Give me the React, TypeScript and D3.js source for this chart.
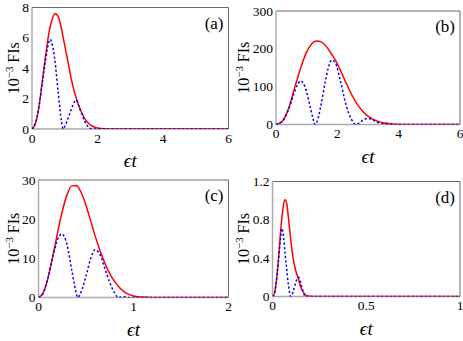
import React from "react";
import * as d3 from "d3";

// (a)
const tA = [0, 0.1, 0.2, 0.3, 0.4, 0.5, 0.55, 0.6, 0.7, 0.8, 0.9, 0.95, 1.0, 1.1, 1.2, 1.3, 1.35, 1.4, 1.5, 1.6, 1.7, 1.8, 1.9, 2.0, 2.2, 2.5, 6];
const redA = [0, 0.35, 1.3, 2.9, 4.6, 6.1, 6.7, 7.1, 7.6, 7.4, 6.6, 6.05, 5.5, 4.4, 3.3, 2.4, 2.05, 1.7, 1.15, 0.72, 0.43, 0.24, 0.13, 0.07, 0.015, 0, 0];
const blueA = [0, 0.35, 1.3, 2.8, 4.3, 5.6, 5.9, 5.7, 4.5, 2.4, 0.5, 0, 0.15, 0.7, 1.3, 1.8, 1.9, 1.7, 1.1, 0.55, 0.18, 0.02, 0, 0, 0, 0, 0];

// (b)
const tB = [0, 0.2, 0.4, 0.6, 0.7, 0.8, 0.9, 1.0, 1.1, 1.2, 1.28, 1.35, 1.45, 1.6, 1.7, 1.82, 1.95, 2.1, 2.3, 2.45, 2.6, 2.7, 2.85, 3.0, 3.15, 3.3, 3.5, 3.8, 4.2, 4.6, 6];
const redB = [0, 8, 40, 95, 122, 148, 172, 192, 206, 216, 220, 221, 219, 210, 200, 185, 168, 143, 107, 82, 60, 48, 33, 22, 14, 9, 4.5, 1.5, 0.3, 0, 0];
const blueB = [0, 8, 38, 85, 105, 115, 108, 85, 52, 18, 0, 10, 45, 110, 148, 170, 160, 115, 47, 15, 0, 3, 12, 16, 12, 6, 2, 0.3, 0, 0, 0];

// (c)
const tC = [0, 0.05, 0.1, 0.15, 0.2, 0.245, 0.3, 0.35, 0.4, 0.41, 0.45, 0.5, 0.55, 0.595, 0.65, 0.7, 0.75, 0.8, 0.84, 0.9, 0.95, 1.0, 1.1, 1.2, 1.3, 2];
const redC = [0, 1.2, 5, 10.5, 16.5, 21.5, 26.2, 28.5, 28.6, 28.4, 26.8, 23.5, 19.5, 15.8, 11.8, 8.7, 6.1, 4.1, 2.9, 1.5, 0.8, 0.4, 0.1, 0.02, 0, 0];
const blueC = [0, 1.2, 5, 10.2, 14.8, 16.2, 13.5, 7, 0.8, 0, 1.5, 5.5, 10, 12.2, 10.8, 7.3, 3.8, 1.2, 0, 0.2, 0, 0, 0, 0, 0, 0];

// (d)
const tD = [0, 0.01, 0.02, 0.03, 0.04, 0.05, 0.06, 0.067, 0.075, 0.085, 0.098, 0.11, 0.12, 0.13, 0.139, 0.15, 0.16, 0.17, 0.175, 0.18, 0.2, 0.25, 1];
const redD = [0, 0.03, 0.15, 0.35, 0.6, 0.82, 0.97, 1.01, 0.98, 0.82, 0.58, 0.4, 0.3, 0.23, 0.18, 0.1, 0.06, 0.03, 0.02, 0.012, 0.002, 0, 0];
const blueD = [0, 0.03, 0.15, 0.33, 0.55, 0.71, 0.6, 0.45, 0.3, 0.12, 0, 0.05, 0.12, 0.18, 0.2, 0.15, 0.07, 0.015, 0, 0, 0, 0, 0];

const xTicksA = [0, 2, 4, 6];
const yTicksA = [0, 2, 4, 6, 8];
const xTicksB = [0, 2, 4, 6];
const yTicksB = [0, 100, 200, 300];
const xTicksC = [0, 1, 2];
const yTicksC = [0, 10, 20, 30];
const xTicksD = [0, 0.5, 1];
const yTicksD = [0, 0.4, 0.8, 1.2];

const panels = [
  { label: "(a)", t: tA, red: redA, blue: blueA, xTicks: xTicksA, yTicks: yTicksA, box: [32, 7.5, 228.5, 129], ylabX: 19 },
  { label: "(b)", t: tB, red: redB, blue: blueB, xTicks: xTicksB, yTicks: yTicksB, box: [276, 11, 460, 124.5], ylabX: 249 },
  { label: "(c)", t: tC, red: redC, blue: blueC, xTicks: xTicksC, yTicks: yTicksC, box: [38.5, 180, 228.5, 297.5], ylabX: 19 },
  { label: "(d)", t: tD, red: redD, blue: blueD, xTicks: xTicksD, yTicks: yTicksD, box: [272.5, 181.5, 460, 296.5], ylabX: 249 },
];

const FONT = "Liberation Serif, Times New Roman, serif";

const Panel = ({ p }: { p: any }) => {
  const [x0, y0, x1, y1] = p.box;
  const x = d3.scaleLinear().domain([p.xTicks[0], p.xTicks[p.xTicks.length - 1]]).range([x0, x1]);
  const y = d3.scaleLinear().domain([p.yTicks[0], p.yTicks[p.yTicks.length - 1]]).range([y1, y0]);
  const line = d3
    .line<number>()
    .x((_, i) => x(p.t[i]))
    .y((d) => y(d))
    .curve(d3.curveMonotoneX);
  const cx = (x0 + x1) / 2;
  const cy = (y0 + y1) / 2;
  const clipId = "clip" + p.label.replace(/[()]/g, "");
  return (
    <g>
      <defs>
        <clipPath id={clipId}>
          <rect x={x0} y={y0 - 2} width={x1 - x0} height={y1 - y0 + 2} />
        </clipPath>
      </defs>
      {/* frame */}
      <line x1={x0} x2={x1} y1={y0} y2={y0} stroke="#666" strokeWidth={1} />
      <line x1={x1} x2={x1} y1={y0} y2={y1} stroke="#666" strokeWidth={1} />
      <line x1={x0} x2={x0} y1={y0} y2={y1} stroke="#aaa" strokeWidth={1.4} />
      <line x1={x0} x2={x1} y1={y1} y2={y1} stroke="#aaa" strokeWidth={1.6} />
      <g clipPath={`url(#${clipId})`}>
        <path d={line(p.red) || ""} fill="none" stroke="#ff0000" strokeWidth={1.5} />
        <path d={line(p.blue) || ""} fill="none" stroke="#0000ff" strokeWidth={1.5} strokeDasharray="2.2,2.2" />
      </g>
      {p.xTicks.map((v: number) => (
        <text key={"x" + v} x={x(v)} y={y1 + 13.5} textAnchor="middle" fontSize={13.5} fontFamily={FONT}>
          {String(v)}
        </text>
      ))}
      {p.yTicks.map((v: number) => (
        <text key={"y" + v} x={x0 - 3} y={y(v) + 4.5} textAnchor="end" fontSize={13.5} fontFamily={FONT}>
          {String(v)}
        </text>
      ))}
      <text x={cx} y={y1 + 38} textAnchor="middle" fontSize={19} fontFamily={FONT} fontStyle="italic">
        ϵt
      </text>
      <text
        transform={`translate(${p.ylabX},${cy}) rotate(-90)`}
        textAnchor="middle"
        fontSize={16}
        fontFamily={FONT}
      >
        10<tspan fontSize={11} dy={-6.5}>−3</tspan>
        <tspan dy={6.5}> FIs</tspan>
      </text>
      <text x={x1 - 5} y={y0 + 21} textAnchor="end" fontSize={17} fontFamily={FONT}>
        {p.label}
      </text>
    </g>
  );
};

export default function App() {
  return (
    <svg width={463} height={341} style={{ position: "absolute", left: 0, top: 0, background: "#fff" }}>
      {panels.map((p) => (
        <Panel key={p.label} p={p} />
      ))}
    </svg>
  );
}
